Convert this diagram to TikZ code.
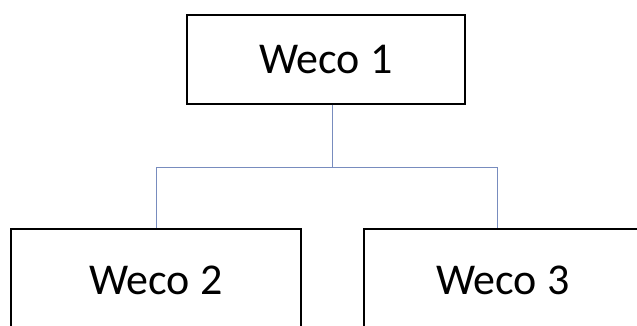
\documentclass[tikz,border=0pt]{standalone}
\usepackage{fontspec}
\setmainfont{Carlito}
\definecolor{connc}{RGB}{120,140,190}
\tikzset{
  box/.style={draw=black, line width=1.5pt, fill=white, inner sep=0pt, font=\fontsize{44}{50}\selectfont, anchor=north west},
  conn/.style={draw=connc, line width=0.9pt}
}
\begin{document}
\begin{tikzpicture}[x=1pt,y=-1pt]
\useasboundingbox (0,0) rectangle (637,325);
\clip (0,0) rectangle (637,325);
\fill[white] (0,0) rectangle (637,325);
\node[box, minimum width=278pt, minimum height=89pt] (w1) at (186,14) {Weco 1};
\node[box, minimum width=290pt, minimum height=104pt] (w2) at (10,228) {Weco 2};
\node[box, minimum width=300pt, minimum height=104pt] (w3) at (363,228) {Weco 3\hspace*{22pt}};
\coordinate (jc) at (332,167);
\coordinate (jl) at (156,167);
\coordinate (jr) at (497,167);
\draw[conn] (jc |- w1.south) -- (jc);
\draw[conn] (jl |- w2.north) -- (jl) -- (jr) -- (jr |- w3.north);
\end{tikzpicture}
\end{document}
